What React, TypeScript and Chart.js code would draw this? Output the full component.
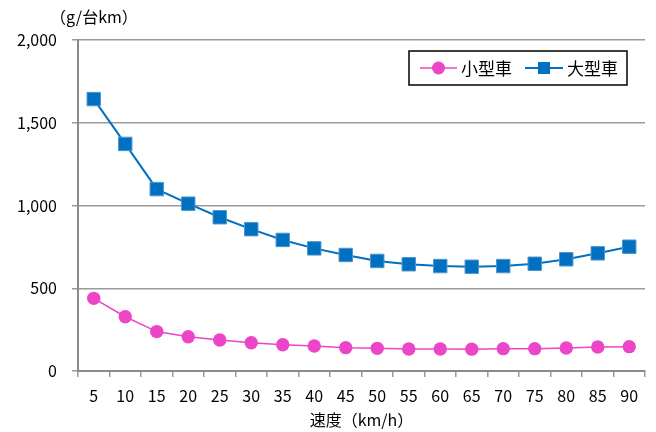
import React, { useEffect, useRef } from "react";
import { Chart, registerables } from "chart.js";

Chart.register(...registerables);

const categories = ["5", "10", "15", "20", "25", "30", "35", "40", "45", "50", "55", "60", "65", "70", "75", "80", "85", "90"];
const smallCar = [439, 328, 238, 207, 187, 171, 159, 151, 141, 137, 133, 133, 132, 135, 135, 139, 145, 147];
const largeCar = [1643, 1372, 1099, 1011, 929, 857, 792, 741, 701, 665, 645, 634, 630, 634, 648, 675, 711, 751];
const seriesNames = ["小型車", "大型車"];
const yUnitLabel = "（g/台km）";
const xTitle = "速度（km/h）";

const FONT = "'Noto Sans CJK JP', 'Noto Sans', sans-serif";
const PINK = "#ec45c8";
const BLUE = "#0070c0";
const GRID = "#9a9a9a";

const extrasPlugin = {
  id: "extras",
  afterDraw(chart: any) {
    const ctx = chart.ctx;
    ctx.save();
    // y unit label
    ctx.font = `16px ${FONT}`;
    ctx.fillStyle = "#000";
    ctx.textAlign = "left";
    ctx.textBaseline = "middle";
    ctx.fillText(yUnitLabel, 50, 17);

    // legend box
    const bx = 409, by = 51, bw = 218, bh = 34;
    ctx.fillStyle = "#fff";
    ctx.fillRect(bx, by, bw, bh);
    ctx.strokeStyle = "#000";
    ctx.lineWidth = 1.5;
    ctx.strokeRect(bx, by, bw, bh);
    const cy = by + bh / 2;
    const items = [
      { x0: 420, x1: 457, text: 461 },
      { x0: 525, x1: 563, text: 567 },
    ];
    chart.data.datasets.forEach((ds: any, i: number) => {
      const it = items[i];
      ctx.strokeStyle = ds.borderColor;
      ctx.lineWidth = ds.borderWidth;
      ctx.beginPath();
      ctx.moveTo(it.x0, cy);
      ctx.lineTo(it.x1, cy);
      ctx.stroke();
      const mx = (it.x0 + it.x1) / 2;
      ctx.fillStyle = ds.pointBackgroundColor;
      if (ds.pointStyle === "rect") {
        ctx.fillRect(mx - 6, cy - 6, 12, 12);
      } else {
        ctx.beginPath();
        ctx.arc(mx, cy, 6.5, 0, Math.PI * 2);
        ctx.fill();
      }
      ctx.fillStyle = "#000";
      ctx.font = `17px ${FONT}`;
      ctx.textAlign = "left";
      ctx.textBaseline = "middle";
      ctx.fillText(ds.label, it.text, cy + 1);
    });
    ctx.restore();
  },
};

export default function App() {
  const ref = useRef<HTMLCanvasElement | null>(null);
  useEffect(() => {
    if (!ref.current) return;
    const chart = new Chart(ref.current, {
      type: "line",
      data: {
        labels: categories,
        datasets: [
          {
            label: seriesNames[0],
            data: smallCar,
            borderColor: PINK,
            backgroundColor: PINK,
            pointBackgroundColor: PINK,
            pointBorderColor: PINK,
            borderWidth: 1.5,
            pointRadius: 6.7,
            pointBorderWidth: 0,
            pointStyle: "circle",
            tension: 0,
          },
          {
            label: seriesNames[1],
            data: largeCar,
            borderColor: BLUE,
            backgroundColor: BLUE,
            pointBackgroundColor: BLUE,
            pointBorderColor: "#4f95d0",
            borderWidth: 2,
            pointRadius: 9.5,
            pointBorderWidth: 1,
            pointStyle: "rect",
            tension: 0,
          },
        ],
      },
      options: {
        animation: false,
        responsive: true,
        maintainAspectRatio: false,
        locale: "en-US",
        layout: { padding: { top: 40, right: 11, bottom: 0, left: 0 } },
        plugins: {
          legend: { display: false },
          tooltip: { enabled: false },
        },
        scales: {
          x: {
            type: "category",
            offset: true,
            grid: {
              offset: true,
              drawOnChartArea: false,
              drawTicks: true,
              tickLength: 6,
              color: GRID,
              lineWidth: 1.5,
            },
            border: { display: true, color: "#8a8a8a", width: 2 },
            ticks: {
              color: "#000",
              font: { family: FONT, size: 16 },
              padding: 9,
              maxRotation: 0,
              autoSkip: false,
            },
            title: {
              display: true,
              text: xTitle,
              color: "#000",
              font: { family: FONT, size: 16 },
              padding: { top: 0, bottom: 2 },
            },
            afterFit(scale: any) {
              scale.height = 61;
            },
          },
          y: {
            min: 0,
            max: 2000,
            ticks: {
              stepSize: 500,
              color: "#000",
              font: { family: FONT, size: 16 },
              padding: 15,
            },
            grid: {
              color: GRID,
              lineWidth: 1.5,
              tickLength: 6,
              drawTicks: true,
            },
            border: { display: true, color: "#8a8a8a", width: 2 },
            afterFit(scale: any) {
              scale.width = 78;
            },
          },
        },
      },
      plugins: [extrasPlugin],
    } as any);
    return () => chart.destroy();
  }, []);
  return (
    <div style={{ position: "fixed", left: 0, top: 0, width: 656, height: 432, background: "#fff" }}>
      <canvas ref={ref} />
    </div>
  );
}
